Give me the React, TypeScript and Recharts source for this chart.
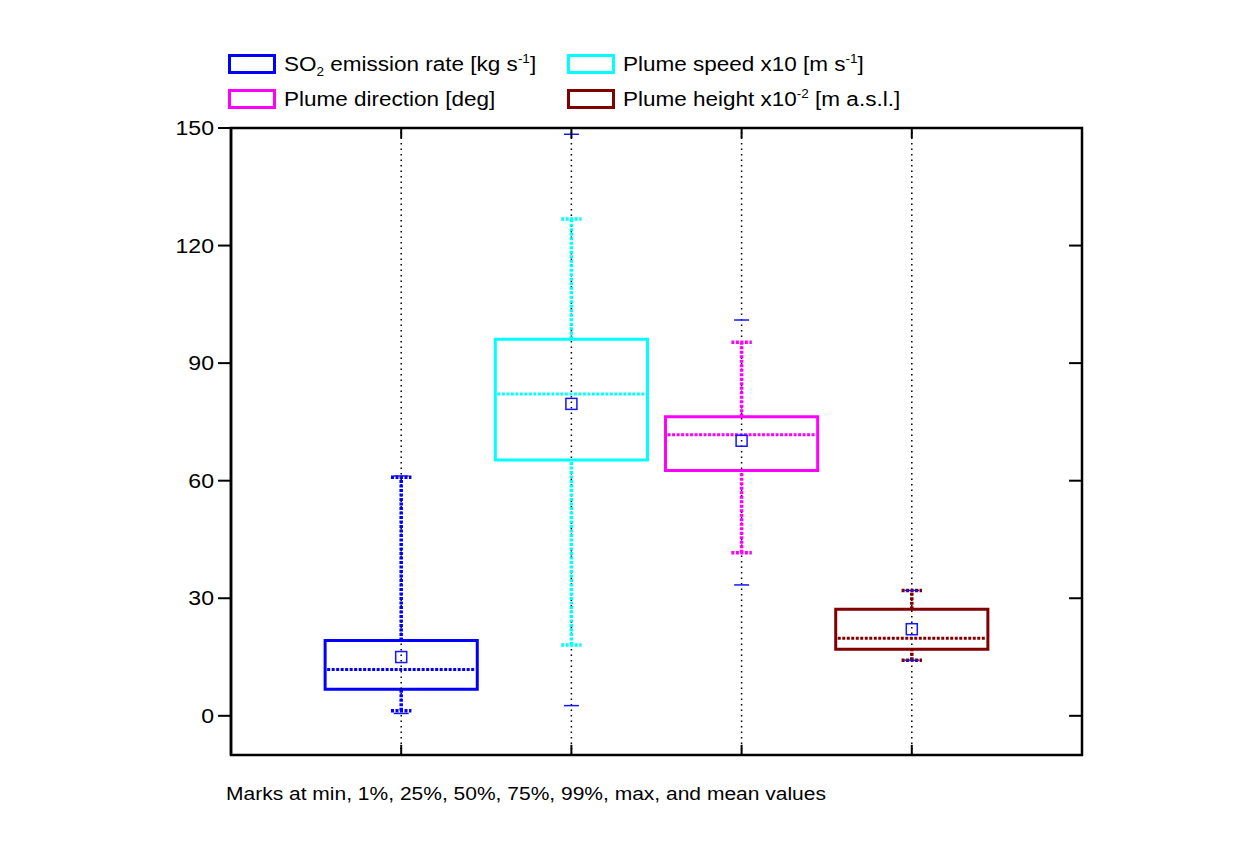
import {
	ComposedChart,
	XAxis,
	YAxis,
	Scatter,
	ReferenceLine,
	ReferenceArea,
} from "recharts";

// one entry per variable, in x order 1..4
const series = [
	"SO2 emission rate",
	"Plume speed x10",
	"Plume direction",
	"Plume height x10^-2",
];
const colors = ["#0000ff", "#00ffff", "#ff00ff", "#800000"];

const minVals = [0.6, 2.6, 33.4, 14.2];
const p1Vals = [1.3, 18.1, 41.6, 14.2];
const q1Vals = [6.8, 65.3, 62.6, 17.0];
const medianVals = [11.8, 82.1, 71.7, 19.8];
const q3Vals = [19.2, 96.1, 76.3, 27.2];
const p99Vals = [60.9, 126.8, 95.3, 32.0];
const maxVals = [61.2, 148.4, 101.0, 32.0];
const meanVals = [15.0, 79.6, 70.2, 22.1];

const yTicks = [0, 30, 60, 90, 120, 150];

const font = "'Liberation Sans', Arial, sans-serif";
const MARK_BLUE = "#1515ff";

const meanData = meanVals.map((y, i) => ({ x: i + 1, y, name: series[i] }));

const YTick = ({ x, y, payload }: any) => (
	<g transform={`translate(${x},${y})`}>
		<text
			transform="scale(1.1,1)"
			x={0}
			y={0}
			dy={7}
			textAnchor="end"
			fontSize={21}
			fontFamily={font}
			fill="#000"
		>
			{payload.value}
		</text>
	</g>
);

const MeanSquare = ({ cx, cy }: any) => (
	<rect
		x={cx - 5.5}
		y={cy - 5.5}
		width={11}
		height={11}
		fill="none"
		stroke={MARK_BLUE}
		strokeWidth={1.5}
	/>
);

const stretch = (s: number) => ({
	display: "inline-block",
	transform: `scaleX(${s})`,
	transformOrigin: "left center",
	whiteSpace: "nowrap" as const,
});

const LegendItem = ({
	left,
	top,
	color,
	children,
}: {
	left: number;
	top: number;
	color: string;
	children: any;
}) => (
	<div style={{ position: "absolute", left, top, height: 22 }}>
		<div
			style={{
				position: "absolute",
				left: 0,
				top: 0,
				width: 42,
				height: 14,
				border: `3px solid ${color}`,
			}}
		/>
		<div
			style={{
				position: "absolute",
				left: 56,
				top: 0,
				fontSize: 20,
				lineHeight: "20px",
				fontFamily: font,
				color: "#000",
			}}
		>
			<span style={stretch(1.125)}>{children}</span>
		</div>
	</div>
);

const subStyle = { fontSize: 12, verticalAlign: "-5px", lineHeight: 0 };
const supStyle = { fontSize: 12, verticalAlign: "8px", lineHeight: 0 };

const App = () => {
	const xs = [1, 2, 3, 4];
	return (
		<div style={{ position: "relative", width: 1233, height: 849 }}>
			<ComposedChart
				width={1233}
				height={849}
				margin={{ top: 120, right: 159, left: 163, bottom: 102 }}
			>
				<XAxis
					type="number"
					dataKey="x"
					domain={[0, 5]}
					allowDataOverflow
					hide
				/>
				<YAxis
					type="number"
					dataKey="y"
					domain={[-10, 150]}
					ticks={yTicks}
					allowDataOverflow
					width={60}
					tickSize={13}
					tickMargin={4}
					tick={<YTick />}
					axisLine={{ stroke: "#000", strokeWidth: 2.5 }}
					tickLine={{ stroke: "#000", strokeWidth: 2 }}
				/>

				{/* black dotted guide at each variable */}
				{xs.map((x) => (
					<ReferenceLine
						key={`g${x}`}
						x={x}
						stroke="#000"
						strokeWidth={1.5}
						strokeDasharray="1.5 4"
					/>
				))}

				{/* whiskers q3 -> 99% and q1 -> 1% */}
				{xs.map((x, i) => (
					<ReferenceLine
						key={`wu${x}`}
						segment={[
							{ x, y: q3Vals[i] },
							{ x, y: p99Vals[i] },
						]}
						stroke={colors[i]}
						strokeWidth={3.5}
						strokeDasharray="3 1.5"
					/>
				))}
				{xs.map((x, i) => (
					<ReferenceLine
						key={`wd${x}`}
						segment={[
							{ x, y: p1Vals[i] },
							{ x, y: q1Vals[i] },
						]}
						stroke={colors[i]}
						strokeWidth={3.5}
						strokeDasharray="3 1.5"
					/>
				))}

				{/* 1% and 99% caps */}
				{xs.map((x, i) =>
					[p1Vals[i], p99Vals[i]].map((v, k) => (
						<ReferenceLine
							key={`c${x}${k}`}
							segment={[
								{ x: x - 0.06, y: v },
								{ x: x + 0.06, y: v },
							]}
							stroke={colors[i]}
							strokeWidth={3.5}
							strokeDasharray="3 1.5"
						/>
					)),
				)}

				{/* min and max marks */}
				{xs.map((x, i) =>
					[minVals[i], maxVals[i]].map((v, k) => (
						<ReferenceLine
							key={`m${x}${k}`}
							segment={[
								{ x: x - 0.044, y: v },
								{ x: x + 0.044, y: v },
							]}
							stroke={MARK_BLUE}
							strokeWidth={1.5}
						/>
					)),
				)}

				{/* boxes */}
				{xs.map((x, i) => (
					<ReferenceArea
						key={`b${x}`}
						x1={x - 0.447}
						x2={x + 0.447}
						y1={q1Vals[i]}
						y2={q3Vals[i]}
						fill="none"
						fillOpacity={0}
						stroke={colors[i]}
						strokeWidth={3}
					/>
				))}

				{/* medians */}
				{xs.map((x, i) => (
					<ReferenceLine
						key={`md${x}`}
						segment={[
							{ x: x - 0.435, y: medianVals[i] },
							{ x: x + 0.435, y: medianVals[i] },
						]}
						stroke={colors[i]}
						strokeWidth={3}
						strokeDasharray="3 1.5"
					/>
				))}

				{/* inward ticks on the top, bottom and right frame */}
				{xs.map((x) => (
					<ReferenceLine
						key={`tt${x}`}
						segment={[
							{ x, y: 150 },
							{ x, y: 147.4 },
						]}
						stroke="#000"
						strokeWidth={2}
					/>
				))}
				{xs.map((x) => (
					<ReferenceLine
						key={`tb${x}`}
						segment={[
							{ x, y: -10 },
							{ x, y: -7.4 },
						]}
						stroke="#000"
						strokeWidth={2}
					/>
				))}
				{yTicks.map((t) => (
					<ReferenceLine
						key={`tr${t}`}
						segment={[
							{ x: 4.924, y: t },
							{ x: 5, y: t },
						]}
						stroke="#000"
						strokeWidth={2}
					/>
				))}

				<ReferenceArea
					x1={0}
					x2={5}
					y1={-10}
					y2={150}
					fill="none"
					fillOpacity={0}
					stroke="#000"
					strokeWidth={2.5}
					ifOverflow="visible"
				/>

				<Scatter
					name="mean"
					data={meanData}
					shape={<MeanSquare />}
					isAnimationActive={false}
				/>
			</ComposedChart>

			<LegendItem left={220} top={46} color={colors[0]}>
				SO<sub style={subStyle}>2</sub> emission rate [kg s
				<sup style={supStyle}>-1</sup>]
			</LegendItem>
			<LegendItem left={559} top={46} color={colors[1]}>
				Plume speed x10 [m s<sup style={supStyle}>-1</sup>]
			</LegendItem>
			<LegendItem left={220} top={81} color={colors[2]}>
				Plume direction [deg]
			</LegendItem>
			<LegendItem left={559} top={81} color={colors[3]}>
				Plume height x10<sup style={supStyle}>-2</sup> [m a.s.l.]
			</LegendItem>

			<div
				style={{
					position: "absolute",
					left: 218,
					top: 776,
					fontSize: 17.5,
					lineHeight: "20px",
					fontFamily: font,
					color: "#000",
				}}
			>
				<span style={stretch(1.2)}>
					Marks at min, 1%, 25%, 50%, 75%, 99%, max, and mean values
				</span>
			</div>
		</div>
	);
};

export default App;
